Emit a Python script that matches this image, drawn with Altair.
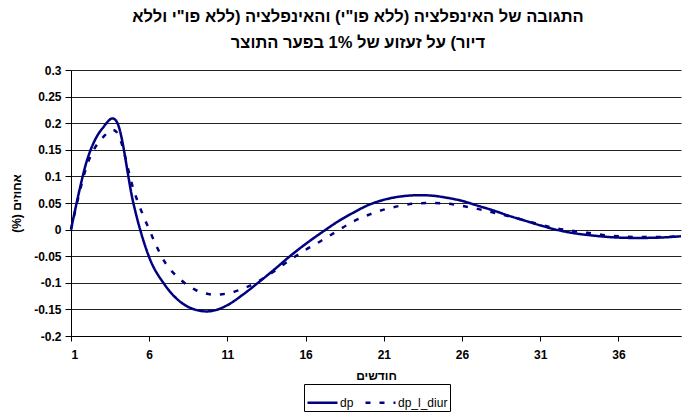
import altair as alt
import pandas as pd

# Months after the output-gap shock
months = list(range(1, 41))

# Inflation response (excl. fruit & vegetables)
dp = [
    0.000, 0.128, 0.190, 0.198, 0.048, -0.052, -0.104, -0.136, -0.151, -0.153,
    -0.142, -0.122, -0.099, -0.075, -0.050, -0.027, -0.006, 0.014, 0.031, 0.046,
    0.056, 0.062, 0.0645, 0.064, 0.060, 0.054, 0.045, 0.036, 0.026, 0.017,
    0.008, 0.000, -0.006, -0.010, -0.013, -0.015, -0.0157, -0.0155, -0.0145, -0.0125,
]

# Inflation response (excl. fruit & vegetables and housing)
dp_l_diur = [
    0.000, 0.119, 0.172, 0.180, 0.075, 0.000, -0.061, -0.094, -0.114, -0.122,
    -0.120, -0.111, -0.097, -0.078, -0.057, -0.038, -0.021, -0.003, 0.0145, 0.0275,
    0.0375, 0.0445, 0.049, 0.050, 0.049, 0.0445, 0.039, 0.032, 0.025, 0.0175,
    0.0094, 0.0025, -0.002, -0.006, -0.010, -0.0125, -0.0138, -0.014, -0.0138, -0.0125,
]

series_names = ["dp", "dp_l_diur"]
x_ticks = [1, 6, 11, 16, 21, 26, 31, 36]
y_ticks = [round(-0.2 + 0.05 * i, 2) for i in range(11)]

title_lines = [
    'התגובה של האינפלציה (ללא פו"י) והאינפלציה (ללא פו"י וללא',
    'דיור) על זעזוע של 1% בפער התוצר',
]
x_title = "חודשים"
y_title = "(%) אחוזים"

df = pd.DataFrame({
    "month": months + months,
    "value": dp + dp_l_diur,
    "series": [series_names[0]] * len(dp) + [series_names[1]] * len(dp_l_diur),
})

FONT = "Liberation Sans"
NAVY = "#000080"

chart = (
    alt.Chart(df)
    .mark_line(interpolate="cardinal", strokeWidth=2.5, color=NAVY)
    .encode(
        x=alt.X(
            "month:Q",
            scale=alt.Scale(domain=[1, 40], nice=False, zero=False),
            axis=alt.Axis(
                values=x_ticks,
                title=x_title,
                grid=False,
                tickSize=5,
                labelPadding=8,
                titlePadding=10,
            ),
        ),
        y=alt.Y(
            "value:Q",
            scale=alt.Scale(domain=[-0.2, 0.3], nice=False, zero=False),
            axis=alt.Axis(
                values=y_ticks,
                title=y_title,
                grid=True,
                tickSize=6,
                labelPadding=4,
                titlePadding=10,
                labelExpr="replace(format(datum.value, '.2~f'), '\u2212', '-')",
            ),
        ),
        strokeDash=alt.StrokeDash(
            "series:N",
            scale=alt.Scale(domain=series_names, range=[[1, 0], [5, 9]]),
            legend=alt.Legend(
                title=None,
                orient="none",
                legendX=233,
                legendY=314,
                direction="horizontal",
                columns=2,
                strokeColor="black",
                padding=2,
                symbolType="stroke",
                symbolSize=900,
                symbolStrokeWidth=2.5,
                symbolStrokeColor=NAVY,
                labelFont=FONT,
                labelFontSize=12,
                labelColor="black",
                labelOffset=1,
                columnPadding=6,
            ),
        ),
    )
    .properties(
        width=610,
        height=266,
        autosize=alt.AutoSizeParams(type="none"),
        padding={"left": 71, "top": 70, "right": 13, "bottom": 78},
        title=alt.Title(
            text=title_lines,
            font=FONT,
            fontSize=16.5,
            fontWeight="bold",
            color="black",
            anchor="middle",
            dx=-18,
            offset=13,
            lineHeight=26,
        ),
    )
    .configure_view(stroke=None)
    .configure_axis(
        domainColor="black",
        domainWidth=1,
        tickColor="black",
        gridColor="#222222",
        gridWidth=1,
        labelFont=FONT,
        labelFontSize=12,
        labelFontWeight="bold",
        labelColor="black",
        titleFont=FONT,
        titleFontSize=12,
        titleFontWeight="bold",
        titleColor="black",
    )
)

chart.save("out.html", embed_options={"renderer": "svg", "actions": False})
